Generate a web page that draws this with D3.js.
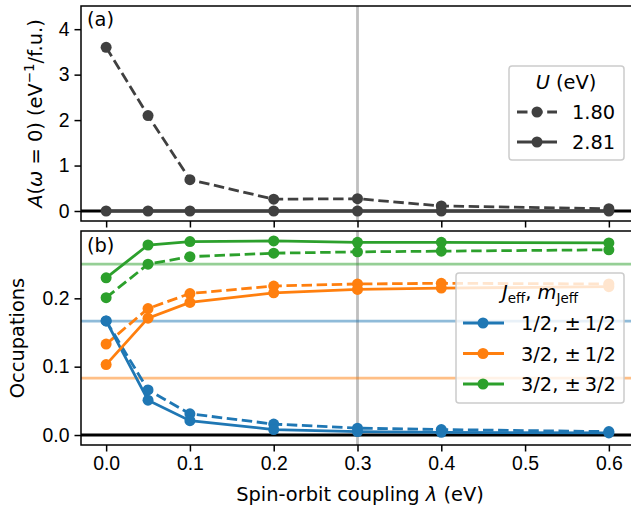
<!DOCTYPE html>
<html>
<head>
<meta charset="utf-8">
<script src="https://cdn.jsdelivr.net/npm/d3@7"></script>
<style>
  body { margin: 0; background: #fff; }
  svg { display: block; font-family: "DejaVu Sans", sans-serif; }
  .tick text { font-size: 19.4px; fill: #000; }
  .tick line { stroke: #000; stroke-width: 1.5; }
  .domain { display: none; }
</style>
</head>
<body>
<div id="chart"></div>
<script>
// Spin-orbit coupling values (eV)
const lambdaVals = [0, 0.05, 0.1, 0.2, 0.3, 0.4, 0.6];

// Panel (a): spectral weight at the Fermi level
const uLabels = ["1.80", "2.81"];
const dosU180 = [3.6, 2.1, 0.69, 0.26, 0.27, 0.11, 0.05];
const dosU281 = [0, 0, 0, 0, 0, 0, 0];

// Panel (b): occupations, solid = U 2.81, dashed = U 1.80
const orbLabels = ["1/2, \u00b1\u20091/2", "3/2, \u00b1\u20091/2", "3/2, \u00b1\u20093/2"];
const orbColors = ["#1f77b4", "#ff7f0e", "#2ca02c"];
const orbRef = [1 / 6, 1 / 12, 1 / 4];
const occJ12m12_U281 = [0.167, 0.051, 0.021, 0.008, 0.005, 0.004, 0.003];
const occJ12m12_U180 = [0.167, 0.066, 0.031, 0.016, 0.010, 0.008, 0.005];
const occJ32m12_U281 = [0.103, 0.171, 0.194, 0.208, 0.213, 0.215, 0.217];
const occJ32m12_U180 = [0.133, 0.185, 0.207, 0.218, 0.221, 0.222, 0.221];
const occJ32m32_U281 = [0.230, 0.278, 0.283, 0.284, 0.282, 0.282, 0.281];
const occJ32m32_U180 = [0.201, 0.250, 0.261, 0.266, 0.268, 0.269, 0.271];

const xTicks = [0, 0.1, 0.2, 0.3, 0.4, 0.5, 0.6];
const yTicksA = [0, 1, 2, 3, 4];
const yTicksB = [0, 0.1, 0.2];
const markLambda = 0.3;

const W = 631, H = 508;
const left = 81, right = 634;
const panelA = { top: 6, bottom: 221 };
const panelB = { top: 231, bottom: 445 };
const dark = "#404040";
const lw = 2.8, rDot = 5.5, dash = "10.5,4.6", fs = 19.4;

const svg = d3.select("#chart").append("svg")
    .attr("width", W)
    .attr("height", H);

const x = d3.scaleLinear().domain([-0.03, 0.63]).range([left, right]);
const yA = d3.scaleLinear().domain([-0.22, 4.51]).range([panelA.bottom, panelA.top]);
const yB = d3.scaleLinear().domain([-0.0146, 0.2985]).range([panelB.bottom, panelB.top]);

const lineGen = (ys) => d3.line().x((d, i) => x(lambdaVals[i])).y(d => ys(d));

function drawSeries(g, vals, ys, color, dashed) {
    g.append("path")
        .datum(vals)
        .attr("d", lineGen(ys))
        .attr("fill", "none")
        .attr("stroke", color)
        .attr("stroke-width", lw)
        .attr("stroke-dasharray", dashed ? dash : null);
    g.selectAll(null)
        .data(vals)
        .enter().append("circle")
        .attr("cx", (d, i) => x(lambdaVals[i]))
        .attr("cy", d => ys(d))
        .attr("r", rDot)
        .attr("fill", color);
}

function drawFrame(p, ys, yTicks, fmt, showXLabels) {
    const g = svg.append("g");
    g.append("g")
        .attr("transform", `translate(0,${p.bottom})`)
        .call(d3.axisBottom(x).tickValues(xTicks).tickSize(6.5).tickPadding(5)
            .tickFormat(showXLabels ? d3.format(".1f") : ""));
    g.append("g")
        .attr("transform", `translate(${left},0)`)
        .call(d3.axisLeft(ys).tickValues(yTicks).tickSize(6.5).tickPadding(5).tickFormat(fmt));
    g.append("rect")
        .attr("x", left).attr("y", p.top)
        .attr("width", right - left).attr("height", p.bottom - p.top)
        .attr("fill", "none").attr("stroke", "#000").attr("stroke-width", 1.5);
    return g;
}

// clip paths for panels
const defs = svg.append("defs");
[["clipA", panelA], ["clipB", panelB]].forEach(([id, p]) => {
    defs.append("clipPath").attr("id", id).append("rect")
        .attr("x", left).attr("y", p.top).attr("width", right - left).attr("height", p.bottom - p.top);
});

// ---- Panel (a)
const gA = svg.append("g").attr("clip-path", "url(#clipA)");
gA.append("line")
    .attr("x1", x(markLambda)).attr("x2", x(markLambda))
    .attr("y1", panelA.top).attr("y2", panelA.bottom)
    .attr("stroke", "#808080").attr("stroke-opacity", 0.5).attr("stroke-width", lw);
gA.append("line")
    .attr("x1", left).attr("x2", right)
    .attr("y1", yA(0)).attr("y2", yA(0))
    .attr("stroke", "#000").attr("stroke-width", lw);
drawSeries(gA, dosU180, yA, dark, true);
drawSeries(gA, dosU281, yA, dark, false);
drawFrame(panelA, yA, yTicksA, d3.format("d"), false);

svg.append("text").attr("x", 87).attr("y", 26)
    .attr("font-size", fs).text("(a)");

// y label panel a
const ylA = svg.append("text")
    .attr("transform", `translate(42,${(panelA.top + panelA.bottom) / 2}) rotate(-90)`)
    .attr("text-anchor", "middle")
    .attr("font-size", fs);
ylA.append("tspan").attr("font-style", "italic").text("A");
ylA.append("tspan").text("(");
ylA.append("tspan").attr("font-style", "italic").text("\u03c9");
ylA.append("tspan").text(" = 0) (eV");
ylA.append("tspan").attr("font-size", 13.5).attr("dy", -8).text("\u22121");
ylA.append("tspan").attr("dy", 8).text("/f.u.)");

// legend panel a
const legA = svg.append("g");
legA.append("rect")
    .attr("x", 509).attr("y", 66).attr("width", 115).attr("height", 94)
    .attr("rx", 3).attr("fill", "#fff").attr("fill-opacity", 0.8)
    .attr("stroke", "#cccccc").attr("stroke-width", 1.5);
const titleA = legA.append("text").attr("x", 566).attr("y", 89)
    .attr("text-anchor", "middle").attr("font-size", fs);
titleA.append("tspan").attr("font-style", "italic").text("U");
titleA.append("tspan").text(" (eV)");
uLabels.forEach((lab, i) => {
    const yy = 112 + i * 30;
    legA.append("line").attr("x1", 517).attr("x2", 557).attr("y1", yy).attr("y2", yy)
        .attr("stroke", dark).attr("stroke-width", lw)
        .attr("stroke-dasharray", i === 0 ? dash : null);
    legA.append("circle").attr("cx", 537).attr("cy", yy).attr("r", rDot).attr("fill", dark);
    legA.append("text").attr("x", 572).attr("y", yy + 7).attr("font-size", fs).text(lab);
});

// ---- Panel (b)
const gB = svg.append("g").attr("clip-path", "url(#clipB)");
gB.append("line")
    .attr("x1", x(markLambda)).attr("x2", x(markLambda))
    .attr("y1", panelB.top).attr("y2", panelB.bottom)
    .attr("stroke", "#808080").attr("stroke-opacity", 0.5).attr("stroke-width", lw);
orbRef.forEach((v, i) => {
    gB.append("line")
        .attr("x1", left).attr("x2", right)
        .attr("y1", yB(v)).attr("y2", yB(v))
        .attr("stroke", orbColors[i]).attr("stroke-opacity", 0.5).attr("stroke-width", lw);
});
gB.append("line")
    .attr("x1", left).attr("x2", right)
    .attr("y1", yB(0)).attr("y2", yB(0))
    .attr("stroke", "#000").attr("stroke-width", lw);
const occSolid = [occJ12m12_U281, occJ32m12_U281, occJ32m32_U281];
const occDashed = [occJ12m12_U180, occJ32m12_U180, occJ32m32_U180];
occDashed.forEach((vals, i) => drawSeries(gB, vals, yB, orbColors[i], true));
occSolid.forEach((vals, i) => drawSeries(gB, vals, yB, orbColors[i], false));
drawFrame(panelB, yB, yTicksB, d3.format(".1f"), true);

svg.append("text").attr("x", 87).attr("y", 252)
    .attr("font-size", fs).text("(b)");

svg.append("text")
    .attr("transform", `translate(24,${(panelB.top + panelB.bottom) / 2}) rotate(-90)`)
    .attr("text-anchor", "middle").attr("font-size", fs)
    .text("Occupations");

const xl = svg.append("text")
    .attr("x", 360).attr("y", 501)
    .attr("text-anchor", "middle").attr("font-size", fs);
xl.append("tspan").text("Spin-orbit coupling ");
xl.append("tspan").attr("font-style", "italic").text("\u03bb");
xl.append("tspan").text(" (eV)");

// legend panel b
const legB = svg.append("g");
legB.append("rect")
    .attr("x", 456).attr("y", 273).attr("width", 168).attr("height", 130)
    .attr("rx", 3).attr("fill", "#fff").attr("fill-opacity", 0.8)
    .attr("stroke", "#cccccc").attr("stroke-width", 1.5);
const titleB = legB.append("text").attr("x", 540).attr("y", 299)
    .attr("text-anchor", "middle").attr("font-size", fs);
titleB.append("tspan").attr("font-style", "italic").text("J");
titleB.append("tspan").attr("font-size", 13.5).attr("dy", 4).text("eff");
titleB.append("tspan").attr("dy", -4).text(", ");
titleB.append("tspan").attr("font-style", "italic").text("m");
titleB.append("tspan").attr("font-size", 13.5).attr("dy", 4).text("Jeff");
orbLabels.forEach((lab, i) => {
    const yy = 323 + i * 30.5;
    legB.append("line").attr("x1", 463).attr("x2", 504).attr("y1", yy).attr("y2", yy)
        .attr("stroke", orbColors[i]).attr("stroke-width", lw);
    legB.append("circle").attr("cx", 483).attr("cy", yy).attr("r", rDot).attr("fill", orbColors[i]);
    legB.append("text").attr("x", 521).attr("y", yy + 7).attr("font-size", fs).text(lab);
});
</script>
</body>
</html>
